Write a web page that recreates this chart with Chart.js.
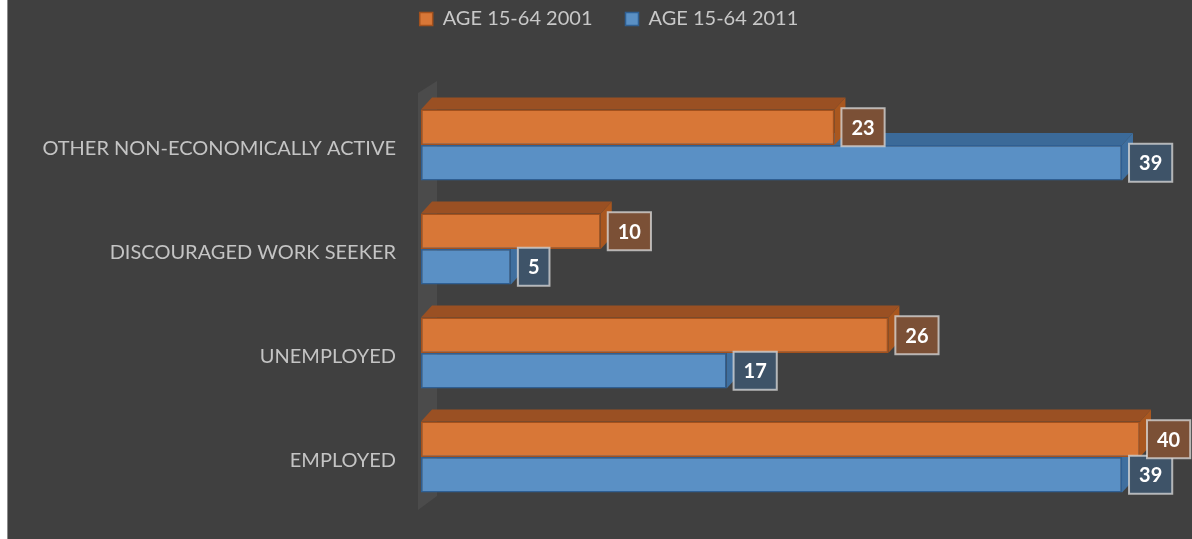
<!DOCTYPE html>
<html>
<head>
<meta charset="utf-8">
<script src="https://cdn.jsdelivr.net/npm/chart.js@4.4.1/dist/chart.umd.min.js"></script>
<style>
    html, body { margin: 0; padding: 0; background: #ffffff; }
    #wrap {
        position: absolute; left: 7px; top: 0;
        width: 1184px; height: 539px;
        border-left: 1px solid #8c8c8c;
        background: #404040;
    }
    canvas { display: block; }
</style>
</head>
<body>
<div id="wrap"><canvas id="chart" width="1184" height="539"></canvas></div>
<script>
const categories = ['OTHER NON-ECONOMICALLY ACTIVE', 'DISCOURAGED WORK SEEKER', 'UNEMPLOYED', 'EMPLOYED'];
const seriesNames = ['AGE 15-64 2001', 'AGE 15-64 2011'];
const age2001 = [23, 10, 26, 40];
const age2011 = [39, 5, 17, 39];

const DX = 11, DY = 12;
const PLOT_TOP = 93;
const PLOT_LEFT = 413;
const PAD_TOP = -24;
const LEGEND_SHIFT = 35;

const faces = [
    { top: '#9a5023', side: '#a9571f', box: '#7b5036' },
    { top: '#3b6a99', side: '#3f6f9f', box: '#3e5368' }
];

// legend sits a bit right of the canvas centre in the original
const legendShift = {
    id: 'legendShift',
    afterLayout(chart) {
        chart.legend.left += LEGEND_SHIFT;
        chart.legend.right += LEGEND_SHIFT;
    }
};

// back wall, 3d faces and label boxes
const bars3d = {
    id: 'bars3d',
    beforeDatasetsDraw(chart) {
        const { ctx, chartArea: a } = chart;
        ctx.save();
        ctx.fillStyle = '#4b4b4b';
        ctx.beginPath();
        ctx.moveTo(a.left - 3, a.bottom + 1);
        ctx.lineTo(a.left - 3 + DX + 8, a.bottom - DY - 1);
        ctx.lineTo(a.left - 3 + DX + 8, a.top - DY);
        ctx.lineTo(a.left - 3, a.top);
        ctx.closePath();
        ctx.fill();
        ctx.restore();
    },
    beforeDatasetDraw(chart, args) {
        const { ctx } = chart;
        const f = faces[args.index];
        const meta = chart.getDatasetMeta(args.index);
        ctx.save();
        meta.data.forEach(bar => {
            const h = bar.height / 2;
            const x0 = bar.base, x1 = bar.x, t = bar.y - h, b = bar.y + h;
            ctx.fillStyle = f.top;
            ctx.beginPath();
            ctx.moveTo(x0, t);
            ctx.lineTo(x0 + DX, t - DY);
            ctx.lineTo(x1 + DX, t - DY);
            ctx.lineTo(x1, t);
            ctx.closePath();
            ctx.fill();
            ctx.fillStyle = f.side;
            ctx.beginPath();
            ctx.moveTo(x1, t);
            ctx.lineTo(x1 + DX, t - DY);
            ctx.lineTo(x1 + DX, b - DY);
            ctx.lineTo(x1, b);
            ctx.closePath();
            ctx.fill();
        });
        ctx.restore();
    },
    afterDatasetsDraw(chart) {
        const { ctx } = chart;
        ctx.save();
        ctx.font = 'bold 20px Lato';
        ctx.textAlign = 'center';
        ctx.textBaseline = 'middle';
        [1, 0].forEach(i => {
            const meta = chart.getDatasetMeta(i);
            meta.data.forEach((bar, j) => {
                const txt = String(chart.data.datasets[i].data[j]);
                const w = ctx.measureText(txt).width + 20;
                const hgt = 38;
                const x = bar.x + 7, y = bar.y - hgt / 2;
                ctx.fillStyle = faces[i].box;
                ctx.fillRect(x, y, w, hgt);
                ctx.strokeStyle = 'rgba(220,220,220,0.75)';
                ctx.lineWidth = 2;
                ctx.strokeRect(x, y, w, hgt);
                ctx.fillStyle = '#ffffff';
                ctx.fillText(txt, x + w / 2, bar.y + 1);
            });
        });
        ctx.restore();
    }
};

new Chart(document.getElementById('chart'), {
    type: 'bar',
    data: {
        labels: categories,
        datasets: [
            {
                label: seriesNames[0],
                data: age2001,
                backgroundColor: '#d87737',
                borderColor: '#a3511d',
                borderWidth: 1.5,
                borderSkipped: false
            },
            {
                label: seriesNames[1],
                data: age2011,
                backgroundColor: '#5a90c5',
                borderColor: '#2f5f93',
                borderWidth: 1.5,
                borderSkipped: false
            }
        ]
    },
    options: {
        indexAxis: 'y',
        responsive: false,
        animation: false,
        categoryPercentage: 0.683,
        barPercentage: 1,
        layout: { padding: { top: PAD_TOP, right: 52, bottom: 30, left: 0 } },
        plugins: {
            legend: {
                position: 'top',
                labels: {
                    color: '#c8c8c8',
                    boxWidth: 13,
                    boxHeight: 13,
                    padding: 33,
                    font: { family: 'Lato', size: 20 }
                }
            },
            tooltip: { enabled: false }
        },
        scales: {
            x: {
                position: 'top',
                min: 0,
                max: 40,
                grid: { display: false },
                border: { display: false },
                ticks: { display: false },
                afterFit: (scale) => {
                    const lh = scale.chart.legend ? scale.chart.legend.height : 0;
                    scale.height = PLOT_TOP - PAD_TOP - lh;
                }
            },
            y: {
                grid: { display: false },
                border: { display: false },
                ticks: {
                    color: '#c4c4c4',
                    padding: 17,
                    labelOffset: 4,
                    font: { family: 'Lato', size: 20 }
                },
                afterFit: (scale) => { scale.width = PLOT_LEFT; }
            }
        }
    },
    plugins: [bars3d, legendShift]
});
</script>
</body>
</html>
